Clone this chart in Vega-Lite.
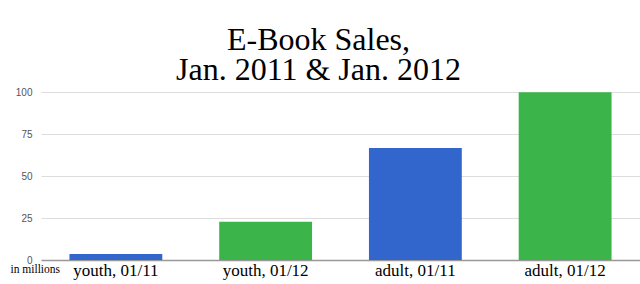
{
  "$schema": "https://vega.github.io/schema/vega-lite/v6.json",
  "autosize": {"type": "none"},
  "width": 599,
  "height": 168,
  "padding": {"left": 41, "top": 92, "right": 0, "bottom": 24},
  "background": "white",
  "title": {
    "text": ["E-Book Sales,", "Jan. 2011 & Jan. 2012"],
    "font": "Liberation Serif",
    "fontSize": 32,
    "fontWeight": "normal",
    "color": "#000000",
    "lineHeight": 30,
    "anchor": "middle",
    "dx": -22,
    "offset": 0
  },
  "data": {
    "values": [
      {"category": "youth, 01/11", "sales": 3.6, "year": "2011"},
      {"category": "youth, 01/12", "sales": 22.7, "year": "2012"},
      {"category": "adult, 01/11", "sales": 66.7, "year": "2011"},
      {"category": "adult, 01/12", "sales": 99.8, "year": "2012"}
    ]
  },
  "mark": {"type": "bar"},
  "encoding": {
    "x": {
      "field": "category",
      "type": "nominal",
      "sort": null,
      "scale": {"paddingInner": 0.38, "paddingOuter": 0.19},
      "axis": {
        "title": null,
        "labelAngle": 0,
        "labelFont": "Liberation Serif",
        "labelFontSize": 17,
        "labelColor": "#000000",
        "labelPadding": 2,
        "ticks": false,
        "domain": true,
        "domainColor": "#999999",
        "domainWidth": 1.5
      }
    },
    "y": {
      "field": "sales",
      "type": "quantitative",
      "scale": {"domain": [0, 100]},
      "axis": {
        "values": [0, 25, 50, 75, 100],
        "title": "in millions",
        "titleAngle": 0,
        "titleFont": "Liberation Serif",
        "titleFontSize": 11.5,
        "titleFontWeight": "normal",
        "titleColor": "#000000",
        "titleAlign": "left",
        "titleBaseline": "middle",
        "titleX": -31,
        "titleY": 177,
        "labelFont": "Liberation Sans",
        "labelFontSize": 10,
        "labelColor": "#555555",
        "labelPadding": 9,
        "ticks": false,
        "domain": false,
        "grid": true,
        "gridColor": "#dddddd",
        "gridWidth": 1
      }
    },
    "color": {
      "field": "year",
      "type": "nominal",
      "scale": {"domain": ["2011", "2012"], "range": ["#3366cc", "#3bb54a"]},
      "legend": null
    }
  },
  "config": {"view": {"stroke": null}}
}
